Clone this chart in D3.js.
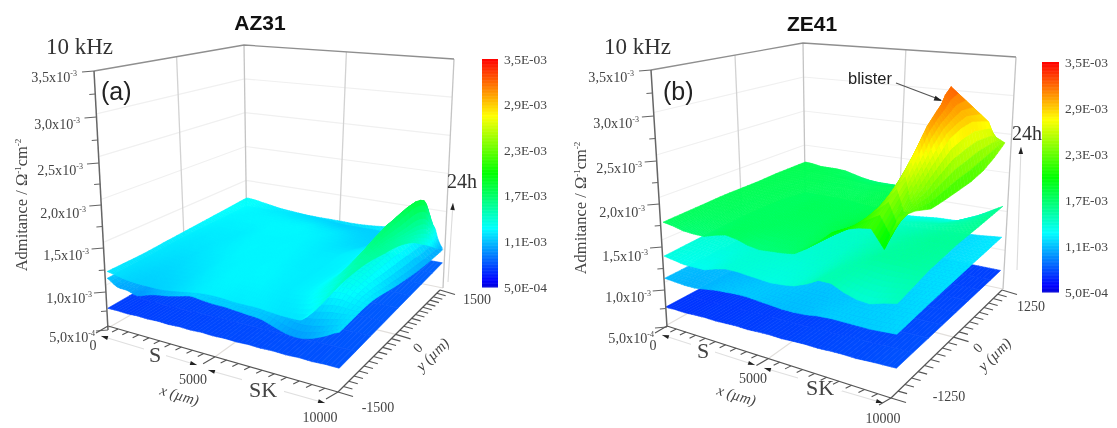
<!DOCTYPE html>
<html><head><meta charset="utf-8">
<script src="https://cdn.jsdelivr.net/npm/d3@7/dist/d3.min.js"></script>
<style>html,body{margin:0;padding:0;background:#fff}svg{display:block;filter:blur(.45px)}</style>
</head><body><div id="c"></div>
<script>
// Admittance values are in units of 1e-5 ohm^-1 cm^-2.  Rows run from the low y edge to the high y edge; each row runs along x.
const colorTicks=["3,5E-03","2,9E-03","2,3E-03","1,7E-03","1,1E-03","5,0E-04"];
const zTickLabels=["5,0x10","1,0x10","1,5x10","2,0x10","2,5x10","3,0x10","3,5x10"];
const zTickSup=["-4","-3","-3","-3","-3","-3","-3"];
const zTicks=[50,100,150,200,250,300,350];

const az_blue=[
 [73,73.4,73.1,74,73.7,74.6,74.3,75.2,75,75.9,75.6,76.4,76.2,77,76.8,77.6,77.3,78.2,78,78.9,79],
 [80,80,81,81,82,82,83,83]];
const az_blue_end=[1,1];
const az_mid=[
 [108,101,100,97,101,104,106,109,112,111,110,110,109,108,107,103,99,98,101,107,114],
 [110,110,112,114,115,115,115,116,118,125,116],
 [112,112,114,116,116,116,116,116,120,130,108],
 [112,112,114,116,116,116,116,116,122,130,102],
 [112,112,113,114,114,114,114,116,120,125,100]];
const az_mid_end=[1,1,1,1,1];
const az_top=[
 [116,114,112,111,111,111,112,114,116,118,119,119,118,118,118,117,116,116,116,117,121],
 [116,115,114,113,113,114,115,116,118,119,120,120,120,120,119,118,118,122,135,141,146],
 [118,117,116,116,116,117,118,119,120,120,120,120,120,119,118,118,118,124,158,155,152],
 [120,119,118,118,118,118,119,120,120,120,120,120,119,118,117,117,118,126,168,152,146],
 [122,121,120,120,120,120,120,120,120,120,119,118,117,115,113,112,113,130,180,150,125],
 [124,123,121,119,117,116,115,114,113,112,111,110,110,110,110,110,110,113,128,112,102]];
const az_top_foot=[.78,.72,.72,.72,.76,.78];
const az_top_crest=[.84,.9,.93,.93,.985,.96];
const az_top_crease=[.86,.92,.96,.965,.993,.98];
const az_top_end=[.88,.945,.985,1,1,1];

const ze_blue=[
 [71,71.5,71.2,72,72.6,72.3,73,73.6,73.4,74.2,74.8,74.5,75.3,75.9,75.7,76.5,77,76.8,77.8,78.4,79],
 [72,72,73,73,73,74,74,74]];
const ze_blue_end=[1,1];
const ze_s1=[
 [105,104,103,103,105,107,108,109,109,108,107,106,106,107,109,110,110,110,110,111,112],
 [106,105,105,106,108,109,108,108,110,112,114],
 [107,107,107,108,109,109,109,110,112,114,115],
 [108,108,108,108,109,109,109,110,112,114,116],
 [108,108,108,108,108,108,108,110,112,114,117]];
const ze_s1_end=[1,1,1,1,1];
const ze_s2=[
 [131,129,127,127,127,131,134,134,133,132,131,132,134,139,146,146,140,136,135,139,142],
 [134,134,135,136,136,136,138,145,152,152,150],
 [136,136,136,137,138,138,140,145,150,154,154],
 [136,136,136,136,136,136,138,142,145,150,155],
 [130,130,130,128,126,122,124,127,128,141,157]];
const ze_s2_end=[1,1,1,1,1];
const ze_s3=[
 [171,169,166,165,165,169,172,170,166,164,165,166,168,176,186,198,204,208,210,192,226],
 [172,171,170,170,170,171,172,172,171,170,170,170,172,176,184,192,200,225,255,232,222],
 [173,172,172,172,171,172,172,172,172,172,172,172,174,176,180,186,194,232,275,245,214],
 [174,173,173,172,172,172,172,172,173,173,173,173,174,175,177,180,186,240,293,260,214],
 [174,174,173,173,173,172,172,172,173,173,173,173,173,174,175,177,180,240,300,272,215],
 [174,174,174,173,173,173,172,172,172,172,172,172,173,174,175,176,178,240,304,277,216],
 [175,174,174,174,173,173,173,172,172,172,171,171,172,173,174,175,176,240,308,278,220],
 [175,175,174,174,173,173,172,172,171,170,169,169,170,171,172,173,174,242,312,272,228],
 [175,174,172,172,172,171,168,165,163,162,162,162,162,165,168,172,178,215,255,246,239]];
const ze_s3_foot=[.8,.8,.78,.76,.74,.71,.66,.64,.72];
const ze_s3_crest=[.9,.96,.945,.925,.9,.87,.83,.8,.85];
const ze_s3_crease=[.95,.98,.975,.97,.96,.955,.95,.97,.95];
const ze_s3_end=[1,1,1,1,1,1,1,1,1];

const color=d3.scaleLinear().domain([50,58,122,200,268,335])
  .range(["#0000d8","#0000ff","#00ffff","#00ff00","#ffff00","#ff0000"]);
const barColor=d3.scaleLinear().domain([50,58,127,200,275,350])
  .range(["#0000d8","#0000ff","#00ffff","#00ff00","#ffff00","#ff0000"]);
const zFrac=d3.scaleLinear().domain([50,350]).range([0,1]);
const xFrac=d3.scaleLinear().domain([0,10000]).range([0,1]);

function homography(q){ // q = [L,F,R,B] : (u,v)=(0,0),(1,0),(1,1),(0,1)
  const [p0,p1,p2,p3]=q;
  const sx=p0[0]-p1[0]+p2[0]-p3[0],sy=p0[1]-p1[1]+p2[1]-p3[1];
  const dx1=p1[0]-p2[0],dx2=p3[0]-p2[0],dy1=p1[1]-p2[1],dy2=p3[1]-p2[1];
  const den=dx1*dy2-dy1*dx2;
  const g=(sx*dy2-sy*dx2)/den,h=(dx1*sy-dy1*sx)/den;
  const a=p1[0]-p0[0]+g*p1[0],b=p3[0]-p0[0]+h*p3[0],c=p0[0];
  const d=p1[1]-p0[1]+g*p1[1],e=p3[1]-p0[1]+h*p3[1],f=p0[1];
  return (u,v)=>{const w=g*u+h*v+1;return [(a*u+b*v+c)/w,(d*u+e*v+f)/w];};
}

const svg=d3.select("#c").append("svg").attr("width",1117).attr("height",428);
const SERIF="'Liberation Serif','Times New Roman',serif", SANS="'Liberation Sans',Arial,sans-serif", INK="#444";

function txt(g,s,x,y,o={}){
  const t=g.append("text").attr("x",x).attr("y",y).text(s)
   .attr("font-family",o.f||SERIF).attr("font-size",o.s||14).attr("fill",o.c||INK)
   .attr("text-anchor",o.a||"middle").attr("font-style",o.i?"italic":"normal").attr("font-weight",o.b?"bold":"normal");
  if(o.r!=null) t.attr("transform",`rotate(${o.r} ${x} ${y})`);
  return t;
}
function arrowHead(g,p,q,len=8,wid=2.6){
  const dx=q[0]-p[0],dy=q[1]-p[1],n=Math.hypot(dx,dy),ux=dx/n,uy=dy/n;
  const b=[q[0]-ux*len,q[1]-uy*len];
  g.append("path").attr("fill","#222").attr("d",
   `M${q}L${b[0]-uy*wid},${b[1]+ux*wid}L${b[0]+uy*wid},${b[1]-ux*wid}Z`);
}
function along(arr,smooth){
  const n=arr.length-1;
  return t=>{
    const f=Math.min(t,1)*n,k=Math.min(n-1,Math.floor(f)),a=f-k;
    if(!smooth||n<2) return arr[k]*(1-a)+arr[k+1]*a;
    const p0=arr[Math.max(0,k-1)],p1=arr[k],p2=arr[k+1],p3=arr[Math.min(n,k+2)];
    return .5*(2*p1+(p2-p0)*a+(2*p0-5*p1+4*p2-p3)*a*a+(3*p1-p0-3*p2+p3)*a*a*a);
  };
}
function drawSurface(g,P,s){
  const {rows,end,foot,crest,crease,smooth}=s;
  const zFns=rows.map(r=>along(r,smooth));
  const uRows=foot?rows.map((r,k)=>[...d3.range(17).map(i=>foot[k]*i/16),(foot[k]+crest[k])/2,crest[k],crease[k],end[k]]):null;
  const uFns=uRows?uRows.map(r=>along(r,false)):null;
  const endFn=along(end,false);
  const ny=rows.length>2?32:8, nx=rows[0].length>2?(foot?100:60):20;
  const at=(a,b)=>{
    const t=a/nx,v=b/ny;
    const z=along(zFns.map(f=>f(t)),smooth)(v);
    const u=uFns?along(uFns.map(f=>f(t)),false)(v):endFn(v)*t;
    return {z,p:P(u,v,zFrac(z))};
  };
  const cells=[];
  for(let j=ny-1;j>=0;j--)for(let i=0;i<nx;i++){
    const c=[at(i,j),at(i+1,j),at(i+1,j+1),at(i,j+1)];
    cells.push({d:"M"+c.map(e=>e.p.map(n=>n.toFixed(1))).join("L")+"Z",fill:color(d3.mean(c,e=>e.z))});
  }
  g.append("g").selectAll("path").data(cells).join("path")
    .attr("d",d=>d.d).attr("fill",d=>d.fill).attr("stroke",d=>d.fill).attr("stroke-width",.6);
}

function panel(cfg){
  const g=svg.append("g");
  const F=homography(cfg.floor),T=homography(cfg.top),A=homography(cfg.axisQuad),W=homography(cfg.wallFloor);
  const P=(u,v,z)=>{const a=F(u,v),b=T(u,v);return [a[0]+(b[0]-a[0])*z*cfg.lean,a[1]+(b[1]-a[1])*z];};
  const PW=(u,v,z)=>{const a=W(u,v),b=T(u,v);return [a[0]+(b[0]-a[0])*z,a[1]+(b[1]-a[1])*z];};
  const line=(a,b,c,w)=>g.append("line").attr("x1",a[0]).attr("y1",a[1]).attr("x2",b[0]).attr("y2",b[1]).attr("stroke",c).attr("stroke-width",w);
  const poly=(pts,c,w)=>g.append("path").attr("fill","none").attr("stroke",c).attr("stroke-width",w).attr("d","M"+pts.join("L"));

  zTicks.slice(1,6).forEach(zv=>{const z=zFrac(zv);
    poly([PW(0,0,z),PW(0,1,z),PW(1,1,z)],"#f0f0f0",1.2);});
  poly([PW(0,0,0),PW(0,1,0),PW(1,1,0)],"#e2dfdc",1.2);
  const xMid=xFrac(5000);
  line(A(xMid,0),A(xMid,1),"#e2dfdc",1.2);
  line(A(0,.5),A(1,.5),"#e2dfdc",1.2);
  line(W(0,.5),T(0,.5),"#d2d2d2",1.3);
  line(W(.5,1),T(.5,1),"#d2d2d2",1.3);
  line(W(0,1),T(0,1),"#c4c4c4",1.3);
  line(W(1,1),T(1,1),"#c4c4c4",1.3);
  poly([cfg.top[0],cfg.top[3],cfg.top[2]],"#8f8f8f",1.3);

  line(cfg.h24Arrow[0],cfg.h24Arrow[1],"#dcdcdc",1.1);
  arrowHead(g,cfg.h24Arrow[0],cfg.h24Arrow[1],7,2.3);
  txt(g,"24h",cfg.h24[0],cfg.h24[1],{s:20,c:"#333"});

  cfg.surfaces.forEach(s=>drawSurface(g,P,s));

  cfg.arrows.forEach(([p,q])=>{line(p,q,"#e0e0e0",1.2);arrowHead(g,p,q,7,2);arrowHead(g,q,p,7,2);});
  cfg.arrowsBreak.forEach(([x,y,w])=>g.append("rect").attr("x",x-w/2).attr("y",y-9).attr("width",w).attr("height",18).attr("fill","#fff"));

  const zy=d3.scaleLinear().domain(zTicks).range(cfg.zY);
  const lx=d3.scaleLinear().domain([cfg.zY[0],cfg.zY[6]]).range([cfg.wallFloor[0][0],cfg.top[0][0]]);
  line([lx(cfg.zY[0]),cfg.zY[0]],[lx(cfg.zY[6]),cfg.zY[6]],"#666",1.5);
  d3.range(50,351,25).forEach(v=>{
    const y=zy(v),x=lx(y),maj=v%50===0;
    line([x,y],[x-(maj?12:6),y+(maj?1:.5)],"#666",1.2);
  });
  zTicks.forEach((v,i)=>{
    const t=txt(g,zTickLabels[i],cfg.zLabelEnd[i],cfg.zY[i]+cfg.zLabelDy[i],{s:14.2,a:"end"});
    t.append("tspan").attr("font-size",8).attr("dy",-6).text(zTickSup[i]);
  });

  d3.range(0,10001,500).forEach(v=>{
    const p=A(xFrac(v),0),maj=v%5000===0;
    line(p,[p[0]+(maj?-12:-6),p[1]+(maj?7:3)],"#555",1.1);
  });
  line(A(0,0),A(1,0),"#555",1.2);
  const yF=d3.scaleLinear().domain(cfg.yDomain).range([0,1]);
  d3.range(cfg.yDomain[0],cfg.yDomain[1]+1,125).forEach(v=>{
    const p=A(1,yF(v)),maj=v%cfg.yDomain[1]===0;
    line(p,[p[0]+(maj?15:9),p[1]+(maj?4.5:2.5)],"#555",1.1);
  });
  line(A(1,0),A(1,1),"#555",1.2);

  const cb=cfg.bar, cbY=d3.scaleLinear().domain([50,350]).range([cb.y2,cb.y1]);
  g.append("g").selectAll("rect").data(d3.range(50,350,1)).join("rect")
    .attr("x",cb.x).attr("width",cb.w).attr("y",d=>cbY(d+1)).attr("height",d=>cbY(d)-cbY(d+1)+.5)
    .attr("fill",d=>barColor(d));
  colorTicks.forEach((s,i)=>txt(g,s,cb.x+cb.w+6,cb.y1+(cb.y2-cb.y1)*i/5+4.5,{s:13.5,a:"start"}));

  txt(g,cfg.title[0],cfg.title[1],cfg.title[2],{f:SANS,s:21,b:1,c:"#111"});
  txt(g,"10 kHz",cfg.khz[0],cfg.khz[1],{s:23,a:"start",c:"#333"});
  txt(g,cfg.tag[0],cfg.tag[1],cfg.tag[2],{f:SANS,s:25,a:"start",c:"#222"});
  const yl=txt(g,"Admitance / Ω",cfg.ylab[0],cfg.ylab[1],{s:16.5,a:"middle",r:-90});
  yl.append("tspan").attr("font-size",9).attr("dy",-6).text("-1");
  yl.append("tspan").attr("dy",6).text("cm");
  yl.append("tspan").attr("font-size",9).attr("dy",-6).text("-2");
  cfg.labels.forEach(l=>txt(g,l[0],l[1],l[2],l[3]));
  if(cfg.extra) cfg.extra(g,line);
}

panel({
  lean:.3,
  floor:[[108,328],[339,398],[442,288],[247,248]],
  wallFloor:[[108,328],[339,398],[443,288],[247,248]],
  top:[[94,71],[345,90],[454,59],[244,45]],
  axisQuad:[[108,326],[338,392],[440,290],[247,248]],
  surfaces:[
   {rows:az_blue,end:az_blue_end},
   {rows:az_mid,end:az_mid_end,smooth:true},
   {rows:az_top,end:az_top_end,foot:az_top_foot,crest:az_top_crest,crease:az_top_crease,smooth:true}],
  zY:[330,292,248,205,163,117,71],
  zLabelEnd:[95,92,89,86,83,80,77],
  zLabelDy:[12,11,12,13,12,12,11],
  yDomain:[-1500,1500],
  h24:[462,188],h24Arrow:[[448,282],[453,203]],
  arrows:[[[101,336],[197,365]],[[208,370],[325,403]]],
  arrowsBreak:[[155,352,22],[263,386,42]],
  bar:{x:482,w:16,y1:59,y2:287},
  title:["AZ31",260,30],khz:[46,54],tag:["(a)",101,100],ylab:[27,205],
  labels:[
   ["0",93,350,{s:14}],["S",155,362,{s:22}],["5000",193,384,{s:14}],
   ["x (µm)",178,400,{s:15,i:1,r:17}],["SK",263,397,{s:22}],["10000",320,422,{s:14}],
   ["-1500",378,412,{s:14}],["1500",477,304,{s:14}],["0",421,351,{s:14,r:-45}],["y (µm)",436,358,{s:15,i:1,r:-45}]]
});
panel({
  lean:.5,
  floor:[[666,325],[896,398],[1000,289],[806,247]],
  wallFloor:[[667,325],[896,398],[1003,289],[806,247]],
  top:[[651,70],[905,90],[1016,57],[803,43]],
  axisQuad:[[667,326],[891,398],[1002,290],[806,247]],
  surfaces:[
   {rows:ze_blue,end:ze_blue_end},
   {rows:ze_s1,end:ze_s1_end},
   {rows:ze_s2,end:ze_s2_end},
   {rows:ze_s3,end:ze_s3_end,foot:ze_s3_foot,crest:ze_s3_crest,crease:ze_s3_crease}],
  zY:[327,290,247,204,161,116,70],
  zLabelEnd:[654,651,648,645,642,639,634],
  zLabelDy:[16,12,14,13,12,12,12],
  yDomain:[-1250,1250],
  h24:[1027,140],h24Arrow:[[1017,270],[1021,147]],
  arrows:[[[662,335],[755,365]],[[764,368],[883,403]]],
  arrowsBreak:[[703,345,24],[820,382,44]],
  bar:{x:1042,w:17,y1:62,y2:292},
  title:["ZE41",812,31],khz:[604,54],tag:["(b)",663,100],ylab:[586,208],
  labels:[
   ["0",653,350,{s:14}],["S",703,358,{s:22}],["5000",753,383,{s:14}],
   ["x (µm)",735,400,{s:15,i:1,r:17}],["SK",820,395,{s:22}],["10000",883,423,{s:14}],
   ["-1250",949,401,{s:14}],["1250",1031,311,{s:14}],["0",981,351,{s:14,r:-45}],["y (µm)",998,358,{s:15,i:1,r:-45}]],
  extra:(g,line)=>{
    txt(g,"blister",870,84,{f:SANS,s:16.5,c:"#222"});
    line([896,83],[941,100],"#555",1.2);
    arrowHead(g,[896,83],[942,101],8,2.6);
  }
});
</script></body></html>
